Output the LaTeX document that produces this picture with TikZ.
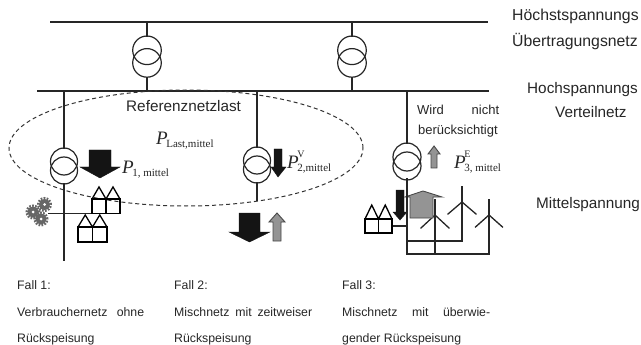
\documentclass[tikz,border=0pt]{standalone}
\usepackage{fontspec}
\setmainfont{Liberation Sans}
\newfontfamily\serf{Liberation Serif}

% power quantity P with optional superscript and a subscript
\newcommand\pquant[2]{{\fontsize{19}{19}\selectfont\itshape P}\kern-1.5pt\rlap{\raisebox{11pt}{\fontsize{10}{10}\selectfont #1}}\raisebox{-3pt}{\fontsize{11}{11}\selectfont #2}}

% transformer symbol: x, top y, radius, centre offset
\newcommand\trafo[4]{%
  \draw[coil] (#1,#2+#3) circle[radius=#3pt];
  \draw[coil] (#1,#2+#3+#4) circle[radius=#3pt];}

% two houses side by side: left x, ridge y, eaves y, floor y, width of one house
\newcommand\housepair[5]{%
  \draw[house] (#1,#4) rectangle (#1+2*#5,#3);
  \draw[house] (#1+#5,#4) -- (#1+#5,#3);
  \draw[house] (#1,#3) -- (#1+0.5*#5,#2) -- (#1+#5,#3) -- (#1+1.5*#5,#2) -- (#1+2*#5,#3);}

% gear wheel: centre, radius
\newcommand\gearwheel[2]{%
  \fill[gearcol] (#1) circle[radius=#2pt];
  \draw[gearcol, line width=2.4pt, dash pattern=on 1.7pt off 1.3pt] (#1) circle[radius=#2pt+0.7pt];
  \fill[white] (#1) circle[radius=1.5pt];}

% wind turbine: x, blade tip y, hub y, blade end y, half span, foot y
\newcommand\turbine[6]{%
  \draw[wire] (#1,#2) -- (#1,#6);
  \draw[wire] (#1-#5,#4) -- (#1,#3) -- (#1+#5,#4);}

\colorlet{gearcol}{black!60}

\begin{document}
\begin{tikzpicture}[x=1pt,y=-1pt,
  wire/.style={line width=1.3pt, draw=black!85, line cap=rect},
  coil/.style={line width=1.2pt, draw=black!85},
  dashring/.style={line width=1pt, dash pattern=on 4pt off 3pt, draw=black!80},
  darkarrow/.style={fill=black!92, draw=black!92, line width=0.4pt, line join=miter},
  lightarrow/.style={fill=black!42, draw=black!72, line width=0.9pt, line join=miter},
  house/.style={line width=1.3pt, draw=black, line join=miter},
  lbl/.style={inner sep=0pt, anchor=base west, font=\fontsize{15.3}{15.3}\selectfont, text=black!85},
  biglbl/.style={lbl, font=\fontsize{15.8}{15.8}\selectfont},
  note/.style={inner sep=0pt, anchor=base west, font=\fontsize{13}{13}\selectfont, text=black!85},
  caption/.style={inner sep=0pt, anchor=base west, font=\fontsize{12.3}{12.3}\selectfont, text=black!85},
  quant/.style={inner sep=0pt, anchor=base west, font=\serf, text=black!85}]
\useasboundingbox (0,0) rectangle (641,345);

% --- busbars -------------------------------------------------------
\coordinate (ehvW) at (51,22);  \coordinate (ehvE) at (487,22);
\coordinate (hvW)  at (38,91);  \coordinate (hvE)  at (488,91);
\draw[wire] (ehvW) -- (ehvE);
\draw[wire] (hvW) -- (hvE);

% --- transmission transformers ---------------------------------------
\trafo{147}{36}{14.3}{12.6}
\trafo{352}{36}{14.3}{12.6}
\draw[wire] (147,22) -- (147,36);  \draw[wire] (147,77.2) -- (147,91);
\draw[wire] (352,22) -- (352,36);  \draw[wire] (352,77.2) -- (352,91);

% --- reference load area ---------------------------------------------
\draw[dashring] (186,148) ellipse[x radius=177pt, y radius=58pt];
\node[lbl] (refload) at (126,111.5) {Referenznetzlast};

% --- case 1: consumer feeder ---------------------------------------
\coordinate (f1top) at (64,91);  \coordinate (f1foot) at (64,260);
\trafo{64}{148}{13.5}{9}
\draw[wire] (f1top) -- (64,148);
\draw[wire] (64,184) -- (f1foot);
\draw[darkarrow] (89,150) -- (111,150) -- (111,167) -- (120,167) -- (100,178) -- (80,167) -- (89,167) -- cycle;
\gearwheel{33,212}{5.6}
\gearwheel{44.5,204.5}{5.6}
\gearwheel{41,219}{5.6}
\draw[wire] (49,213.5) -- (92,213.5);
\housepair{92}{187}{199}{213.5}{14}
\housepair{78}{215}{227}{242}{14.5}
\node[quant] (pload) at (156,145) {\pquant{}{Last,mittel}};
\node[quant] (p1) at (122,173) {\pquant{}{1, mittel}};

% --- case 2: mixed feeder ----------------------------------------------
\coordinate (f2top) at (257,91);  \coordinate (f2foot) at (257,200);
\trafo{257}{147}{13.5}{9}
\draw[wire] (f2top) -- (257,147);
\draw[wire] (257,183) -- (f2foot);
\draw[darkarrow] (274,149) -- (282,149) -- (282,167) -- (286,167) -- (278,177) -- (271,167) -- (274,167) -- cycle;
\node[quant] (p2) at (287,168) {\pquant{V}{2,mittel}};
\draw[darkarrow] (239,213) -- (260,213) -- (260,232) -- (270,232) -- (249.5,242) -- (229,232) -- (239,232) -- cycle;
\draw[lightarrow] (273,241) -- (281,241) -- (281,222) -- (285,222) -- (277,213) -- (269,222) -- (273,222) -- cycle;

% --- case 3: feeder with predominant infeed -------------------------
\coordinate (f3top) at (407,91);  \coordinate (f3foot) at (407,254);
\trafo{407}{143}{14}{9}
\draw[wire] (f3top) -- (407,143);
\node[note] (ignored1) at (417,115) {\makebox[82pt][s]{Wird nicht}};
\node[note] (ignored2) at (418,135) {berücksichtigt};
\draw[lightarrow] (431,168) -- (437,168) -- (437,154) -- (440,154) -- (434,146) -- (428,154) -- (431,154) -- cycle;
\node[quant] (p3) at (454,168) {\pquant{E}{3, mittel}};
\turbine{435}{200}{215}{228}{14}{254}
\turbine{462}{187}{202}{214}{14}{241}
\turbine{489}{200}{215}{227}{13.5}{254}
\draw[lightarrow] (410,218) -- (433,218) -- (433,197) -- (442,197) -- (423,191) -- (405,197) -- (410,197) -- cycle;
\draw[darkarrow] (396,190) -- (404,190) -- (404,212) -- (407,212) -- (400,220) -- (393,212) -- (396,212) -- cycle;
\draw[wire] (407,179) -- (f3foot);
\draw[wire] (407,241) -- (462,241);
\draw[wire] (407,254) -- (489,254);
\draw[wire] (392,226) -- (407,226);
\housepair{365}{205}{219}{233}{13.5}

% --- voltage level labels ---------------------------------------------
\node[biglbl] (ehv1) at (512,21) {Höchstspannungs};
\node[biglbl] (ehv2) at (512,47) {Übertragungsnetz};
\node[lbl] (hv1)  at (527,93.5) {Hochspannungs};
\node[lbl] (hv2)  at (555,117.5) {Verteilnetz};
\node[lbl] (mv)   at (536,208.5) {Mittelspannung};

% --- case captions ----------------------------------------------------
\node[caption] (c1a) at (17,289.5) {Fall 1:};
\node[caption] (c1b) at (17,316) {\makebox[127pt][s]{Verbrauchernetz ohne}};
\node[caption] (c1c) at (17,342.5) {Rückspeisung};
\node[caption] (c2a) at (174,289.5) {Fall 2:};
\node[caption] (c2b) at (174,316) {\makebox[138pt][s]{Mischnetz mit zeitweiser}};
\node[caption] (c2c) at (174,342.5) {Rückspeisung};
\node[caption] (c3a) at (342,289.5) {Fall 3:};
\node[caption] (c3b) at (342,316) {\makebox[148pt][s]{Mischnetz mit überwie-}};
\node[caption] (c3c) at (342,342.5) {gender Rückspeisung};
\end{tikzpicture}
\end{document}
